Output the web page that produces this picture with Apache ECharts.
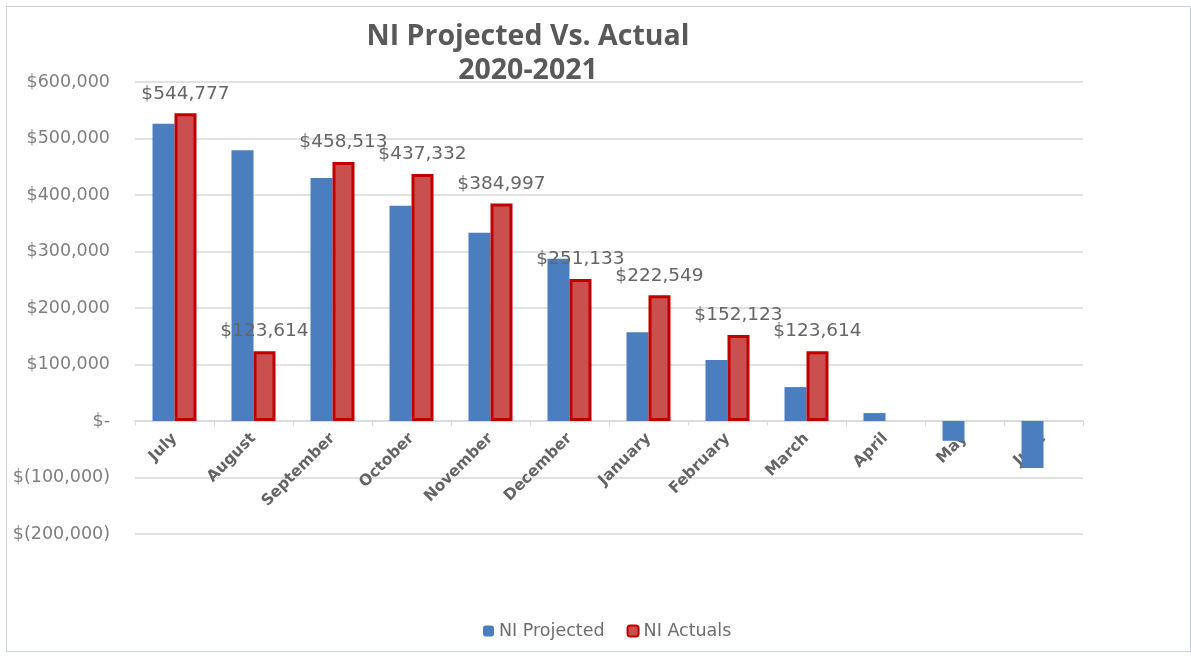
<!DOCTYPE html>
<html>
<head>
<meta charset="utf-8">
<script src="https://cdn.jsdelivr.net/npm/echarts@6/dist/echarts.min.js"></script>
<style>
html,body{margin:0;padding:0;background:#fff;}
#c{position:absolute;left:0;top:0;width:1191px;height:656px;}
#frame{position:absolute;left:6px;top:6px;width:1185px;height:646px;border:1px solid #c9d3e3;box-sizing:border-box;pointer-events:none;}
</style>
</head>
<body>
<div id="c"></div>
<div id="frame"></div>
<script>
const categories = ['July','August','September','October','November','December','January','February','March','April','May','June'];
const projected = [526000, 479000, 430000, 381000, 333000, 287000, 157000, 108000, 60000, 14000, -35000, -83000];
const actuals = [544777, 123614, 458513, 437332, 384997, 251133, 222549, 152123, 123614, null, null, null];
const yTicks = { min: -200000, max: 600000, interval: 100000 };

function money(v){
  if (v === 0) return '$-';
  const s = Math.abs(v).toLocaleString('en-US');
  return v < 0 ? '$(' + s + ')' : '$' + s;
}

const gridTop = 82, gridBottom = 122, H = 656;
const plotH = H - gridTop - gridBottom;
const zeroOffset = plotH * (0 - yTicks.min) / (yTicks.max - yTicks.min);

const chart = echarts.init(document.getElementById('c'));
chart.setOption({
  backgroundColor: '#ffffff',
  animation: false,
  title: {
    text: 'NI Projected Vs. Actual\n2020-2021',
    left: 523, top: 15, textAlign: 'center',
    textStyle: { fontFamily: 'Open Sans', fontWeight: 'bold', fontSize: 28.5, color: '#595959', lineHeight: 34 }
  },
  legend: {
    top: 617, left: 478,
    itemWidth: 11, itemHeight: 11, itemGap: 22,
    textStyle: { fontFamily: 'DejaVu Sans', fontSize: 17.5, color: '#6e6e6e' },
    data: ['NI Projected', 'NI Actuals']
  },
  grid: { left: 135, right: 108, top: gridTop, bottom: gridBottom, containLabel: false },
  xAxis: {
    type: 'category', data: categories,
    offset: -zeroOffset,
    axisLine: { onZero: false, lineStyle: { color: '#d9d9d9', width: 1.5 } },
    axisTick: { show: true, alignWithLabel: false, length: 5, lineStyle: { color: '#d9d9d9' } },
    axisLabel: { rotate: 45, margin: 15, fontFamily: 'DejaVu Sans', fontSize: 15.5, fontWeight: 'bold', color: '#646464', interval: 0 }
  },
  yAxis: {
    type: 'value', min: yTicks.min, max: yTicks.max, interval: yTicks.interval,
    axisLine: { show: false }, axisTick: { show: false },
    splitLine: { lineStyle: { color: '#d9d9d9', width: 1.5 } },
    axisLabel: { formatter: money, margin: 25, fontFamily: 'DejaVu Sans', fontSize: 17.5, color: '#7f7f7f' }
  },
  series: [
    {
      name: 'NI Projected', type: 'bar', data: projected,
      barWidth: 22, barGap: '0%',
      itemStyle: { color: '#4a7ebf' }
    },
    {
      name: 'NI Actuals', type: 'bar', data: actuals,
      barWidth: 22,
      itemStyle: { color: '#c9504e', borderColor: '#c00000', borderWidth: 3 },
      label: {
        show: true, position: 'top', distance: 10,
        formatter: p => money(p.value),
        fontFamily: 'DejaVu Sans', fontSize: 18.5, color: '#666666'
      }
    }
  ]
});
</script>
</body>
</html>
